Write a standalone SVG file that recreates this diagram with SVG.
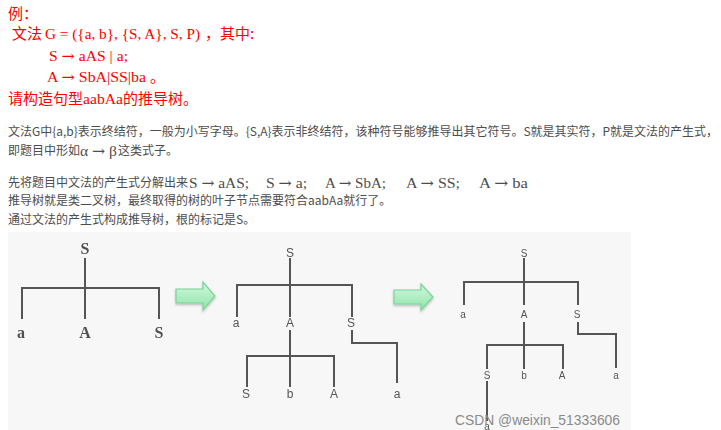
<svg xmlns="http://www.w3.org/2000/svg" width="721" height="430" viewBox="0 0 721 430">
  <style>
    .red { fill: #ff0000; font-family: "Noto Sans CJK SC", "Liberation Sans", sans-serif; font-size: 15px; }
    .redm { fill: #ff0000; font-family: "Liberation Serif", "DejaVu Serif", serif; font-size: 15px; }
    .body { fill: #4d4d4d; font-family: "Noto Sans CJK SC", "Liberation Sans", sans-serif; font-size: 12px; }
    .bodym { fill: #4d4d4d; font-family: "Liberation Serif", "DejaVu Serif", serif; font-size: 15px; }
    .ar { font-family: "DejaVu Serif", serif; }
    .edge { fill: none; stroke: #555555; stroke-width: 2; }
    .t1 { fill: #505050; font-family: "Liberation Serif", serif; font-size: 16px; font-weight: bold; text-anchor: middle; }
    .t2 { fill: #555555; font-family: "Liberation Sans", sans-serif; font-size: 12px; text-anchor: middle; }
    .t3 { fill: #555555; font-family: "Liberation Sans", sans-serif; font-size: 10px; text-anchor: middle; }
    .step { fill: url(#mint); stroke: #79d496; stroke-width: 1.2; }
    .mark { fill: #8a8a8a; font-family: "Liberation Sans", sans-serif; font-size: 14px; }
  </style>
  <defs>
    <linearGradient id="mint" x1="0" y1="0" x2="0" y2="1">
      <stop offset="0" stop-color="#d2f8de"/>
      <stop offset="1" stop-color="#8fe4aa"/>
    </linearGradient>
    <filter id="soft" x="-20%" y="-20%" width="140%" height="140%">
      <feGaussianBlur stdDeviation="0.6"/>
    </filter>
    <filter id="shade" x="-20%" y="-20%" width="140%" height="160%">
      <feDropShadow dx="0" dy="1.5" stdDeviation="1.2" flood-color="#000" flood-opacity="0.25"/>
    </filter>
  </defs>

  <rect width="721" height="430" fill="#ffffff"/>

  <!-- problem statement -->
  <text class="red" x="8" y="19">例：</text>
  <text class="red" x="12" y="39">文法</text>
  <text class="redm" x="45" y="39" textLength="155" lengthAdjust="spacingAndGlyphs">G = ({a, b}, {S, A}, S, P)</text>
  <text class="red" x="205" y="39">，其中:</text>
  <text class="redm" x="49" y="61" textLength="79" lengthAdjust="spacingAndGlyphs">S <tspan class="ar">→</tspan> aAS | a;</text>
  <text class="redm" x="47" y="82" textLength="99" lengthAdjust="spacingAndGlyphs">A <tspan class="ar">→</tspan> SbA|SS|ba</text>
  <text class="red" x="150" y="82">。</text>
  <text class="red" x="8" y="104">请构造句型</text>
  <text class="redm" x="83" y="104" textLength="40" lengthAdjust="spacingAndGlyphs">aabAa</text>
  <text class="red" x="123" y="104">的推导树。</text>

  <!-- explanation -->
  <text class="body" x="8" y="136" textLength="710" lengthAdjust="spacingAndGlyphs">文法G中{a,b}表示终结符，一般为小写字母。{S,A}表示非终结符，该种符号能够推导出其它符号。S就是其实符，P就是文法的产生式，</text>
  <text class="body" x="8" y="155">即题目中形如</text>
  <text class="bodym" x="80" y="156" textLength="37" lengthAdjust="spacingAndGlyphs">α <tspan class="ar">→</tspan> β</text>
  <text class="body" x="118" y="155">这类式子。</text>

  <text class="body" x="8" y="187">先将题目中文法的产生式分解出来</text>
  <text class="bodym" x="189" y="188" textLength="60" lengthAdjust="spacingAndGlyphs">S <tspan class="ar">→</tspan> aAS;</text>
  <text class="bodym" x="266" y="188" textLength="41" lengthAdjust="spacingAndGlyphs">S <tspan class="ar">→</tspan> a;</text>
  <text class="bodym" x="325" y="188" textLength="61" lengthAdjust="spacingAndGlyphs">A <tspan class="ar">→</tspan> SbA;</text>
  <text class="bodym" x="406" y="188" textLength="54" lengthAdjust="spacingAndGlyphs">A <tspan class="ar">→</tspan> SS;</text>
  <text class="bodym" x="479" y="188" textLength="49" lengthAdjust="spacingAndGlyphs">A <tspan class="ar">→</tspan> ba</text>
  <text class="body" x="8" y="205">推导树就是类二叉树，最终取得的树的叶子节点需要符合aabAa就行了。</text>
  <text class="body" x="8" y="224">通过文法的产生式构成推导树，根的标记是S。</text>

  <!-- figure panel -->
  <rect x="8" y="232" width="623" height="198" fill="#f7f7f7"/>

  <!-- derivation step 1 -->
  <g id="tree1" filter="url(#soft)">
    <path class="edge" d="M85 258V319M22 319V288H159V319"/>
    <text class="t1" x="85" y="254">S</text>
    <text class="t1" x="21" y="338">a</text>
    <text class="t1" x="85" y="338">A</text>
    <text class="t1" x="159" y="338">S</text>
  </g>

  <g id="arrow1" filter="url(#shade)">
    <polygon class="step" points="176,289 203,289 203,282 215,296 203,310 203,303 176,303"/>
  </g>

  <!-- derivation step 2 -->
  <g id="tree2" filter="url(#soft)">
    <path class="edge" d="M290 258V317M237 317V285H352V317"/>
    <path class="edge" d="M290 330V387M247 387V356H334V387"/>
    <path class="edge" d="M352 330V343H397V383"/>
    <text class="t2" x="290" y="257">S</text>
    <text class="t2" x="236" y="327">a</text>
    <text class="t2" x="290" y="327">A</text>
    <text class="t2" x="351" y="327">S</text>
    <text class="t2" x="246" y="398">S</text>
    <text class="t2" x="290" y="398">b</text>
    <text class="t2" x="334" y="398">A</text>
    <text class="t2" x="397" y="398">a</text>
  </g>

  <g id="arrow2" filter="url(#shade)">
    <polygon class="step" points="394,290 421,290 421,284 433,297 421,310 421,304 394,304"/>
  </g>

  <!-- derivation step 3 -->
  <g id="tree3" filter="url(#soft)">
    <path class="edge" d="M524 258V305M464 305V282H578V305"/>
    <path class="edge" d="M524 322V369M487 369V345H563V369"/>
    <path class="edge" d="M578 322V334H616V368"/>
    <path class="edge" d="M487 381V421"/>
    <text class="t3" x="524" y="257">S</text>
    <text class="t3" x="463" y="318">a</text>
    <text class="t3" x="524" y="318">A</text>
    <text class="t3" x="577" y="318">S</text>
    <text class="t3" x="487" y="379">S</text>
    <text class="t3" x="524" y="379">b</text>
    <text class="t3" x="562" y="379">A</text>
    <text class="t3" x="616" y="379">a</text>
    <text class="t3" x="487" y="430">a</text>
  </g>

  <text class="mark" x="455" y="425" textLength="165" lengthAdjust="spacingAndGlyphs">CSDN @weixin_51333606</text>
</svg>
